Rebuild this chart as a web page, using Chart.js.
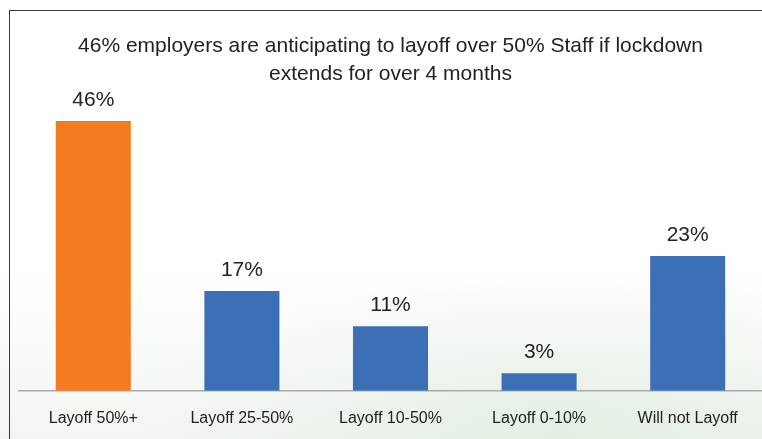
<!DOCTYPE html>
<html>
<head>
<meta charset="utf-8">
<script src="https://cdn.jsdelivr.net/npm/chart.js@4.4.0/dist/chart.umd.min.js"></script>
<style>
  html, body { margin: 0; padding: 0; }
  body {
    width: 762px; height: 439px; overflow: hidden; position: relative;
    background:
      radial-gradient(ellipse 420px 160px at 560px 430px, rgba(214,232,214,0.5), rgba(255,255,255,0) 100%),
      linear-gradient(to bottom, #ffffff 60%, #f2f6f1 100%);
  }
  .frame {
    position: absolute; left: 9px; top: 10px; width: 800px; height: 500px;
    border-left: 1.5px solid #3a3a3a; border-top: 1.5px solid #3a3a3a;
  }
  #wrap { position: absolute; left: 0; top: 0; width: 762px; height: 439px; }
</style>
</head>
<body>
<div class="frame"></div>
<div id="wrap"><canvas id="layoffChart"></canvas></div>
<script>
  const categories = ['Layoff 50%+', 'Layoff 25-50%', 'Layoff 10-50%', 'Layoff 0-10%', 'Will not Layoff'];
  const shares = [46, 17, 11, 3, 23];
  const barColors = ['#f47b20', '#3d6fb6', '#3d6fb6', '#3d6fb6', '#3d6fb6'];
  const titleLines = ['46% employers are anticipating to layoff over 50% Staff if lockdown', 'extends for over 4 months'];

  const font = "'Liberation Sans', Arial, Helvetica, sans-serif";

  // percentage labels above each bar
  const valueLabels = {
    id: 'valueLabels',
    afterDatasetsDraw(chart) {
      const ctx = chart.ctx;
      const meta = chart.getDatasetMeta(0);
      ctx.save();
      ctx.font = '21px ' + font;
      ctx.fillStyle = '#222';
      ctx.textAlign = 'center';
      ctx.textBaseline = 'middle';
      meta.data.forEach((bar, i) => {
        ctx.fillText(shares[i] + '%', bar.x, bar.y - 21);
      });
      ctx.restore();
    }
  };

  new Chart(document.getElementById('layoffChart'), {
    type: 'bar',
    data: {
      labels: categories,
      datasets: [{
        data: shares,
        backgroundColor: barColors,
        categoryPercentage: 1,
        barPercentage: 0.505
      }]
    },
    options: {
      responsive: true,
      maintainAspectRatio: false,
      animation: false,
      layout: { padding: { left: 19, right: 0, top: 0, bottom: -7 } },
      plugins: {
        legend: { display: false },
        tooltip: { enabled: false },
        title: {
          display: true,
          text: titleLines,
          color: '#222',
          font: { family: font, size: 21, weight: 'normal', lineHeight: 1.3 },
          padding: { top: 33, bottom: 10 }
        }
      },
      scales: {
        x: {
          grid: { display: false, drawTicks: false },
          border: { display: true, color: '#a9a9a9', width: 1.5 },
          ticks: { color: '#222', font: { family: font, size: 16 }, padding: 18, maxRotation: 0 }
        },
        y: {
          display: false,
          min: 0,
          max: 50
        }
      }
    },
    plugins: [valueLabels]
  });
</script>
</body>
</html>
